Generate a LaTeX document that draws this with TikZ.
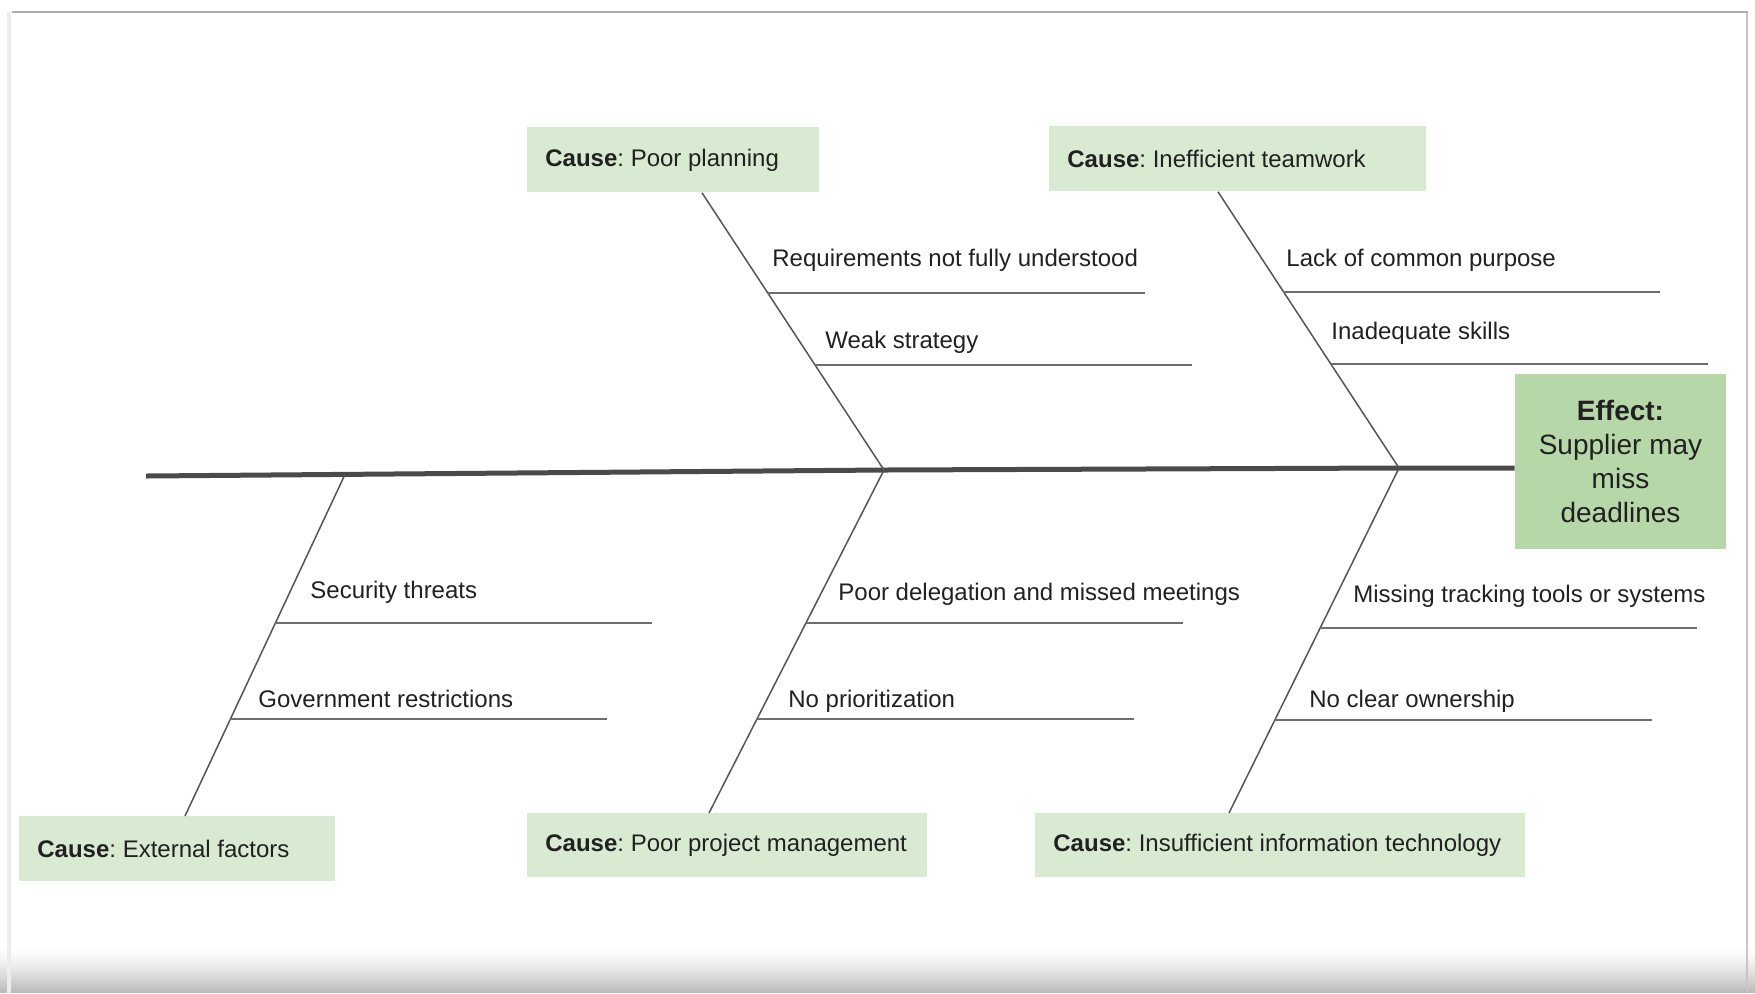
\documentclass[tikz,border=0pt]{standalone}
\usepackage{fontspec}
\setmainfont{Liberation Sans}
\usetikzlibrary{calc}
\definecolor{causegreen}{HTML}{D9EAD3}
\definecolor{effgreen}{HTML}{B6D7A8}
\definecolor{txt}{HTML}{212121}
\definecolor{bonegray}{HTML}{555555}
\definecolor{subgray}{HTML}{6E6E6E}
\definecolor{spinegray}{HTML}{4A4A4A}
\newcommand{\cboxtext}[2]{\makebox[#1][l]{#2}}
\frenchspacing
\begin{document}
\frenchspacing
\begin{tikzpicture}[x=0.5pt,y=-0.5pt,
  causebox/.style={fill=causegreen, anchor=north west, inner xsep=9pt, inner ysep=0pt,
    text=txt, font=\fontsize{12}{14}\selectfont},
  effbox/.style={fill=effgreen, align=center, inner sep=0pt, text=txt,
    minimum width=105.5pt, minimum height=87.5pt, font=\fontsize{14}{17}\selectfont},
  lbl/.style={anchor=base west, inner sep=0pt, text=txt, font=\fontsize{12}{14}\selectfont},
  bone/.style={draw=bonegray, line width=0.75pt},
  subline/.style={draw=subgray, line width=1pt},
  spine/.style={draw=spinegray, line width=2.5pt}]
\useasboundingbox (0,0) rectangle (1755,993);
\fill[white] (0,0) rectangle (1755,993);
% screenshot frame
\foreach \i [evaluate=\i as \c using (\i/23)^1.5*27] in {0,...,23}
  \fill[black!\c] (0,{945+2*\i}) rectangle (1755,{947+2*\i});
\draw[gray!15, line width=2pt] (9,12) -- (9,993);
\draw[gray!45, line width=1pt] (1747,12) -- (1747,993);
\draw[gray!65, line width=1pt] (12,12) -- (1748,12);

% effect
\node[effbox] (eff) at (1620.5,461.5) {\textbf{Effect:}\\Supplier may\\miss\\deadlines};

% cause boxes
\node[causebox, minimum height=32.5pt] (ppl) at (527,127) {\cboxtext{128pt}{\textbf{Cause}: Poor planning}};
\node[causebox, minimum height=32.5pt] (itw) at (1049,126) {\cboxtext{170.5pt}{\textbf{Cause}: Inefficient teamwork}};
\node[causebox, minimum height=32.5pt] (ext) at (19,816) {\cboxtext{140pt}{\textbf{Cause}: External factors}};
\node[causebox, minimum height=32pt] (ppm) at (527,813) {\cboxtext{182pt}{\textbf{Cause}: Poor project management}};
\node[causebox, minimum height=32pt] (iit) at (1035,813) {\cboxtext{227pt}{\textbf{Cause}: Insufficient information technology}};

% spine
\coordinate (sL) at (146,476);
\coordinate (j0) at (345,474.4);
\coordinate (j1) at (884,470);
\coordinate (j2) at (1399,468);
\draw[spine] (sL) -- (j1) -- (j2) -- (j2 -| eff.west);

% bone end points on the boxes
\coordinate (t1) at ($(ppl.south west)+(175,0)$);
\coordinate (t2) at ($(itw.south west)+(169,0)$);
\coordinate (b0) at ($(ext.north west)+(166,0)$);
\coordinate (b1) at ($(ppm.north west)+(182,0)$);
\coordinate (b2) at ($(iit.north west)+(194,0)$);

\draw[bone] (t1) -- (j1);
\draw[bone] (t2) -- (j2);
\draw[bone] (j0) -- (b0);
\draw[bone] (j1) -- (b1);
\draw[bone] (j2) -- (b2);

% sub-cause points
\coordinate (a1) at ($(t1)!0.363!(j1)$);
\coordinate (a2) at ($(t1)!0.622!(j1)$);
\coordinate (c1) at ($(t2)!0.361!(j2)$);
\coordinate (c2) at ($(t2)!0.625!(j2)$);
\coordinate (d1) at ($(j0)!0.435!(b0)$);
\coordinate (d2) at ($(j0)!0.716!(b0)$);
\coordinate (e1) at ($(j1)!0.446!(b1)$);
\coordinate (e2) at ($(j1)!0.726!(b1)$);
\coordinate (f1) at ($(j2)!0.464!(b2)$);
\coordinate (f2) at ($(j2)!0.730!(b2)$);

\foreach \p in {a1,a2,c1,c2,d1,d2,e1,e2,f1,f2}
  \draw[subline] (\p) -- ++(377,0);

% labels
\node[lbl] (la1) at (772,266) {Requirements not fully understood};
\node[lbl] (la2) at (825,348) {Weak strategy};
\node[lbl] (lc1) at (1286,266) {Lack of common purpose};
\node[lbl] (lc2) at (1331,339) {Inadequate skills};
\node[lbl] (ld1) at (310,598) {Security threats};
\node[lbl] (ld2) at (258,707) {Government restrictions};
\node[lbl] (le1) at (838,600) {Poor delegation and missed meetings};
\node[lbl] (le2) at (788,707) {No prioritization};
\node[lbl] (lf1) at (1353,602) {Missing tracking tools or systems};
\node[lbl] (lf2) at (1309,707) {No clear ownership};
\end{tikzpicture}
\end{document}
